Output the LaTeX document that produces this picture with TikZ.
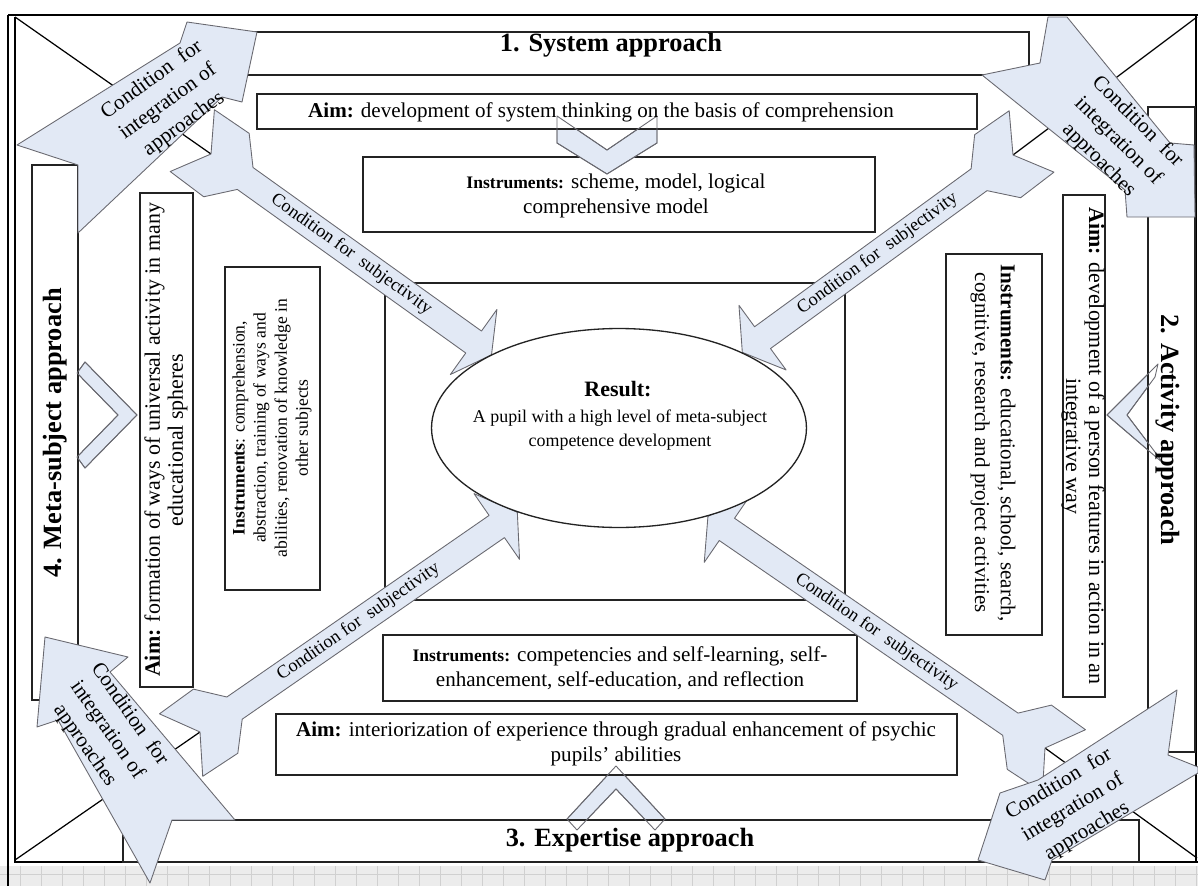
\documentclass[tikz,border=0pt]{standalone}
\usepackage{fontspec}
\setmainfont{Liberation Serif}
\usetikzlibrary{shapes.geometric,fit,calc}
\definecolor{arrfill}{RGB}{226,233,245}
\definecolor{arrline}{RGB}{105,105,112}
\definecolor{boxline}{RGB}{35,35,35}
\definecolor{gridbg}{RGB}{236,236,236}
\definecolor{gridln}{RGB}{208,208,208}
\newcommand\myfs[2]{\fontsize{#1}{#2}\selectfont}
\newcommand\subjarrow[4]{%
  \begin{scope}[shift={(#1)},rotate=#2]
    \filldraw[arr] (0,0) -- (-23,38) -- (19,39) -- (42,13.5) -- (#3,13.5) -- (#3,40) -- (#4,0)
      -- (#3,-40) -- (#3,-13.5) -- (42,-13.5) -- (19,-39) -- (-23,-38) -- cycle;
  \end{scope}}
\begin{document}
\begin{tikzpicture}[x=0.02cm,y=-0.02cm,
  box/.style={draw=boxline, line width=0.75pt, fill=white, inner sep=0pt},
  arr/.style={draw=arrline, line width=0.5pt, fill=arrfill, line join=round},
  chevline/.style={draw=arrline, line width=0.5pt, line join=round},
  diag/.style={draw=black, line width=0.7pt},
  txt/.style={align=center, inner sep=0pt, font=\myfs{12}{14.5}},
  titletxt/.style={inner sep=0pt, font=\bfseries\myfs{15}{17}},
  subjtxt/.style={inner sep=0pt, font=\myfs{10.4}{12}},
  condtxt/.style={align=center, inner sep=0pt, font=\myfs{12}{15.5}}]
\useasboundingbox (0,0) rectangle (1198,886);
% grey spreadsheet band below the frame
\fill[gridbg] (0,866) rectangle (1198,886);
\foreach \gx in {20,41,...,1198} \draw[gridln, line width=0.4pt] (\gx,866) -- (\gx,886);
\draw[gridln, line width=0.4pt] (0,874) -- (1198,874);
% frame (thin parts)
\draw[line width=0.6pt] (15,17) -- (15,862) -- (1198,862);
\draw[line width=0.6pt] (1196,15) -- (1196,862);
% corner coordinates and diagonals
\coordinate (fTL) at (15,17);
\coordinate (fTR) at (1197,17);
\coordinate (fBL) at (15,860);
\coordinate (fBR) at (1197,858);
\coordinate (s1t) at (211,154);
\coordinate (s2t) at (1013,155);
\coordinate (s3t) at (200,732);
\coordinate (s4t) at (1045,748);
\coordinate (s1h) at (491.5,354.8);
\coordinate (s2h) at (742.3,352.7);
\coordinate (s3h) at (517.3,512);
\coordinate (s4h) at (708,516.5);
\draw[diag] (fTL) -- (s1t);
\draw[diag] (fTR) -- (s2t);
\draw[diag] (fBL) -- (s3t);
\draw[diag] (fBR) -- (s4t);
% central frame
\node[box, fit={(385,283) (845,600)}] (core) {};
% instruments boxes
\node[box, fit={(363,157) (875,232)}] (instS) {};
\node[box, fit={(383,635) (857,701)}] (instE) {};
\node[box, fit={(225,267) (320,590)}] (instM) {};
\node[box, fit={(946,254) (1042,635)}] (instA) {};
% chevrons (fill)
\filldraw[arr] (557,116) -- (607,150) -- (657,116) -- (657,143) -- (607,174) -- (557,143) -- cycle;
\filldraw[arr] (616,766) -- (665,819) -- (655,830) -- (616,789) -- (577,830) -- (567,819) -- cycle;
\filldraw[arr] (137,415) -- (85,362) -- (77,373) -- (118,415) -- (77,457) -- (85,468) -- cycle;
\filldraw[arr] (1107,415) -- (1158,364) -- (1155,377) -- (1127,415) -- (1158,456) -- (1163,463) -- cycle;
% aim boxes and approach bands
\node[box, fit={(257,94) (977,129)}] (aimS) {};
\node[box, fit={(276,714) (957,775)}] (aimE) {};
\node[box, fit={(140,193) (193,687)}] (aimM) {};
\node[box, fit={(1063,195) (1105,697)}] (aimA) {};
\node[box, fit={(240,32) (1029,75)}] (bandS) {};
\node[box, fit={(123,820) (1139,862)}] (bandE) {};
\node[box, fit={(32,165) (78,700)}] (bandM) {};
\node[box, fit={(1148,107) (1195,752)}] (bandA) {};
% chevron outlines on top
\draw[chevline] (557,116) -- (607,150) -- (657,116) -- (657,143) -- (607,174) -- (557,143) -- cycle;
\draw[chevline] (616,766) -- (665,819) -- (655,830) -- (616,789) -- (577,830) -- (567,819) -- cycle;
\draw[chevline] (137,415) -- (85,362) -- (77,373) -- (118,415) -- (77,457) -- (85,468) -- cycle;
\draw[chevline] (1107,415) -- (1158,364) -- (1155,377) -- (1127,415) -- (1158,456) -- (1163,463) -- cycle;
% titles
\node[titletxt] (tS) at (611,45) {1. System approach};
\node[titletxt] (tE) at (630,840) {3. Expertise approach};
\node[titletxt, rotate=-90] (tA) at (1168,430) {2. Activity approach};
\node[titletxt, rotate=90] (tM) at (55,433) {4. Meta-subject approach};
% box texts
\node[txt] (xaimS) at (601,112) {\textbf{Aim:} development of system thinking on the basis of comprehension};
\node[txt] (xinstS) at (616,196) {{\bfseries\myfs{10}{14.5}Instruments:} scheme, model, logical\\comprehensive model};
\node[txt] (xinstE) at (620,668) {{\bfseries\myfs{10}{14.5}Instruments:} competencies and self-learning, self-\\enhancement, self-education, and reflection};
\node[txt] (xaimE) at (616,744) {\textbf{Aim:} interiorization of experience through gradual enhancement of psychic\\pupils’ abilities};
\node[txt, rotate=90, font=\myfs{12.5}{13}] (xaimM) at (166,440) {\textbf{Aim:} formation of ways of universal activity in many\\educational spheres};
\node[txt, rotate=90, font=\myfs{10}{12}] (xinstM) at (272,428) {\textbf{Instruments}: comprehension,\\abstraction, training of ways and\\abilities, renovation of knowledge in\\other subjects};
\node[txt, rotate=-90, font=\myfs{12}{14.7}] (xinstA) at (993,443) {\textbf{Instruments:} educational, school, search,\\cognitive, research and project activities};
\node[txt, rotate=-90, font=\myfs{12.5}{13}] (xaimA) at (1083,446) {\textbf{Aim:} development of a person features in action in an\\integrative way};
% condition for subjectivity arrows
\subjarrow{s1t}{-35.6}{323}{345}
\subjarrow{s2t}{-143.9}{310}{335}
\subjarrow{s3t}{34.7}{361}{386}
\subjarrow{s4t}{145.5}{386}{409}
\path (s1t) -- (s1h) node[midway, sloped, subjtxt] (l1) {Condition for~ subjectivity};
\path (s2t) -- (s2h) node[midway, sloped, subjtxt] (l2) {Condition for~ subjectivity};
\path (s3t) -- (s3h) node[midway, sloped, subjtxt] (l3) {Condition for~ subjectivity};
\path (s4t) -- (s4h) node[midway, sloped, subjtxt] (l4) {Condition for~ subjectivity};
% result ellipse
\node[draw=boxline, line width=0.75pt, fill=white, ellipse, minimum width=7.5cm, minimum height=3.98cm, inner sep=0pt] (res) at (619,428) {};
\node[inner sep=0pt, font=\bfseries\myfs{12.5}{15}] (resH) at (618,389) {Result:};
\node[txt, font=\myfs{10.2}{14}] (resB) at (620,430) {A pupil with a high level of meta-subject\\competence development};
% condition for integration arrows
\filldraw[arr] (17,145) -- (180,43) -- (187,22) -- (257,32) -- (242,102) -- (222,97) -- (78,233) -- (78,165) -- cycle;
\filldraw[arr] (1048,17) -- (1067,17) -- (1170,143) -- (1194,145) -- (1195,217) -- (1127,217) -- (1125,190) -- (982,75) -- (1040,63) -- cycle;
\filldraw[arr] (45,637) -- (128,657) -- (110,672) -- (235,820) -- (172,820) -- (150,883) -- (58,720) -- (37,727) -- cycle;
\filldraw[arr] (1177,690) -- (1168,755) -- (1198,767) -- (1198,773) -- (1052,860) -- (1045,880) -- (978,860) -- (1000,793) -- (1038,780) -- cycle;
\node[condtxt, rotate=36] (c1) at (168,102) {Condition~ for\\integration of\\approaches};
\node[condtxt, rotate=-45] (c2) at (1118,141) {Condition~ for\\integration of\\approaches};
\node[condtxt, rotate=-55] (c3) at (107,730) {Condition~ for\\integration of\\approaches};
\node[condtxt, rotate=31] (c4) at (1073,808) {Condition~ for\\integration of\\approaches};
% frame (thick parts)
\draw[line width=1.6pt] (8,15) -- (1198,15);
\draw[line width=1.4pt] (8,15) -- (8,886);
\end{tikzpicture}
\end{document}
